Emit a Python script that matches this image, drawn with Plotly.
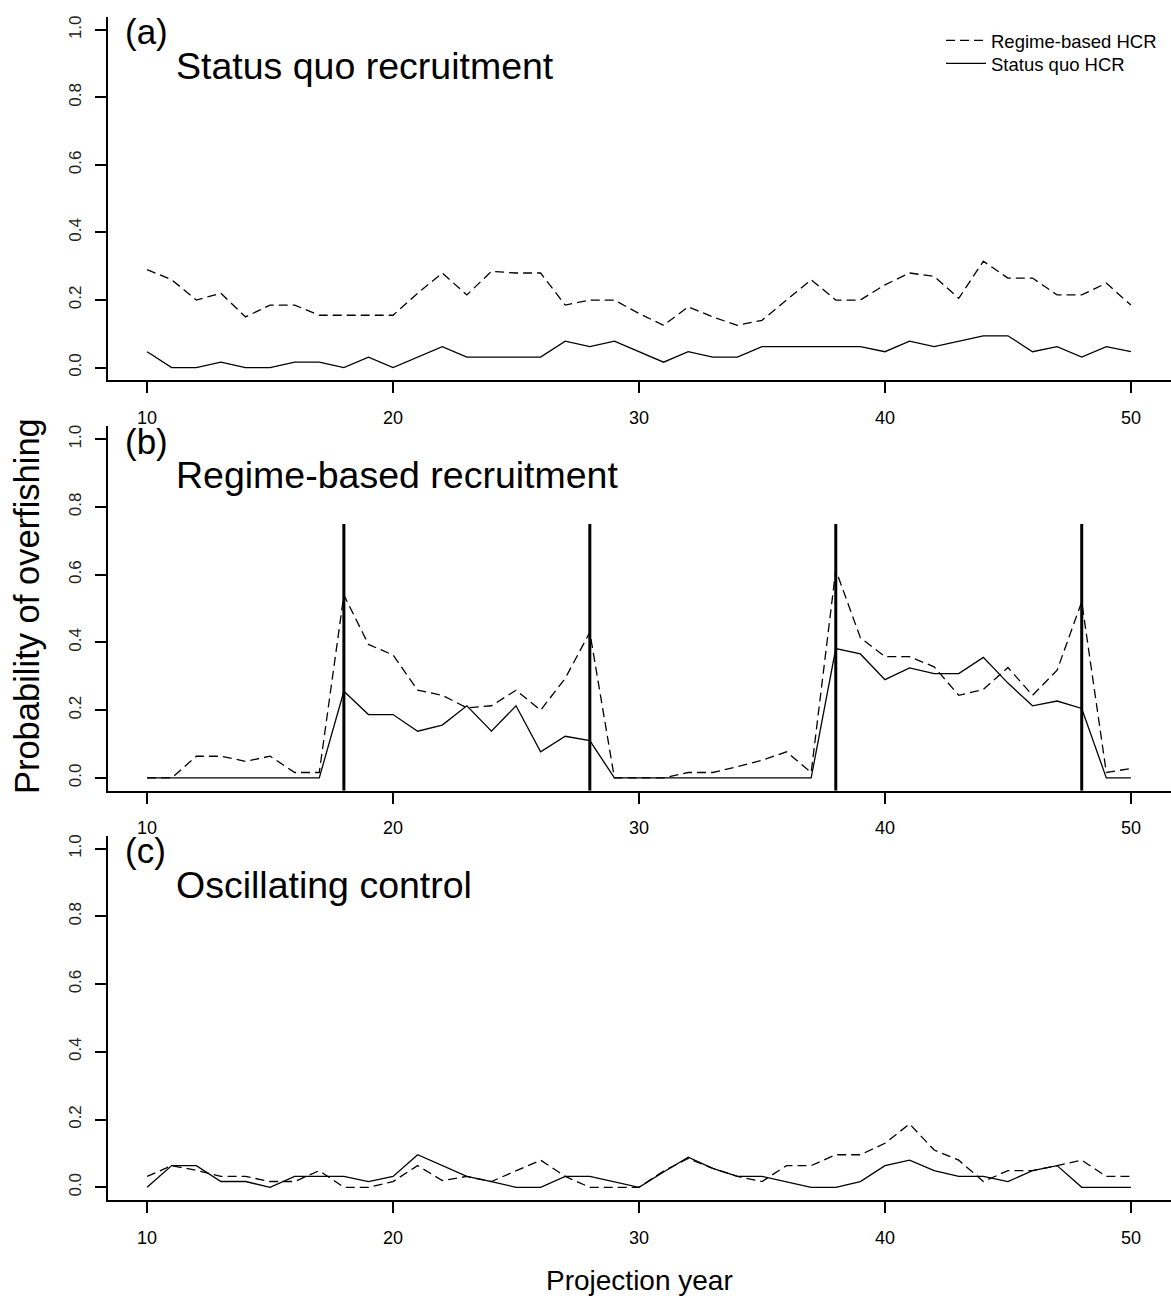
import plotly.graph_objects as go

# ---------------- data ----------------
years = list(range(10, 51))

a_regime = [0.29, 0.26, 0.20, 0.22, 0.15, 0.185, 0.185, 0.155, 0.155, 0.155, 0.155,
            0.22, 0.28, 0.215, 0.285, 0.28, 0.28, 0.185, 0.20, 0.20, 0.16,
            0.125, 0.18, 0.15, 0.125, 0.14, 0.20, 0.26, 0.20, 0.20, 0.245,
            0.28, 0.27, 0.205, 0.315, 0.265, 0.265, 0.215, 0.215, 0.25, 0.185]
a_statusquo = [0.047, 0, 0, 0.016, 0, 0, 0.016, 0.016, 0, 0.031, 0,
               0.031, 0.062, 0.031, 0.031, 0.031, 0.031, 0.078, 0.062, 0.078, 0.047,
               0.016, 0.047, 0.031, 0.031, 0.062, 0.062, 0.062, 0.062, 0.062, 0.047,
               0.078, 0.062, 0.078, 0.094, 0.094, 0.047, 0.062, 0.031, 0.062, 0.047]

b_regime = [0, 0, 0.064, 0.064, 0.049, 0.064, 0.016, 0.016, 0.54, 0.394, 0.363,
            0.259, 0.244, 0.207, 0.213, 0.259, 0.20, 0.294, 0.43, 0, 0,
            0, 0.016, 0.016, 0.033, 0.052, 0.077, 0.016, 0.614, 0.414, 0.358,
            0.358, 0.328, 0.244, 0.261, 0.326, 0.244, 0.318, 0.52, 0.016, 0.028]
b_statusquo = [0, 0, 0, 0, 0, 0, 0, 0, 0.256, 0.187, 0.187,
               0.138, 0.156, 0.213, 0.138, 0.213, 0.077, 0.123, 0.11, 0, 0,
               0, 0, 0, 0, 0, 0, 0, 0.382, 0.366, 0.29,
               0.325, 0.308, 0.308, 0.356, 0.28, 0.213, 0.227, 0.205, 0, 0]

c_regime = [0.032, 0.064, 0.05, 0.032, 0.032, 0.017, 0.017, 0.049, 0, 0, 0.017,
            0.064, 0.02, 0.032, 0.017, 0.049, 0.08, 0.032, 0, 0, 0,
            0.048, 0.085, 0.056, 0.032, 0.017, 0.064, 0.064, 0.096, 0.096, 0.13,
            0.187, 0.11, 0.08, 0.017, 0.049, 0.049, 0.064, 0.08, 0.032, 0.032]
c_statusquo = [0, 0.064, 0.064, 0.017, 0.017, 0, 0.032, 0.032, 0.032, 0.017, 0.032,
               0.096, 0.064, 0.032, 0.017, 0, 0, 0.032, 0.032, 0.017, 0,
               0.045, 0.089, 0.056, 0.032, 0.032, 0.017, 0, 0, 0.017, 0.064,
               0.08, 0.049, 0.032, 0.032, 0.017, 0.049, 0.064, 0, 0, 0]

regime_shift_years = [18, 28, 38, 48]
regime_shift_top = 0.75

panel_letters = ["(a)", "(b)", "(c)"]
panel_titles = ["Status quo recruitment", "Regime-based recruitment", "Oscillating control"]
series_names = ["Regime-based HCR", "Status quo HCR"]
x_ticks = [10, 20, 30, 40, 50]
y_ticks = [0.0, 0.2, 0.4, 0.6, 0.8, 1.0]

# ---------------- layout helpers ----------------
W, H = 1171, 1298
FONT = "Liberation Sans, Arial, sans-serif"
X_RANGE = [8.41, 51.63]
Y_RANGE = [-0.038, 1.038]


def px(p):
    return p / W


def py(p):
    return 1 - p / H


# panel pixel boxes (top, bottom)
panel_px = [(15, 379), (425, 790), (835, 1200)]
panel_dy = [0, 410, 820]

fig = go.Figure()

panels = [(a_regime, a_statusquo), (b_regime, b_statusquo), (c_regime, c_statusquo)]
for i, (reg, sq) in enumerate(panels):
    xa = "x" if i == 0 else f"x{i+1}"
    ya = "y" if i == 0 else f"y{i+1}"
    fig.add_trace(go.Scatter(x=years, y=reg, mode="lines", name=series_names[0],
                             line=dict(color="black", width=1.3, dash="9px,5px"),
                             xaxis=xa, yaxis=ya, showlegend=(i == 0), legend="legend"))
    fig.add_trace(go.Scatter(x=years, y=sq, mode="lines", name=series_names[1],
                             line=dict(color="black", width=1.3),
                             xaxis=xa, yaxis=ya, showlegend=(i == 0), legend="legend2"))

# vertical regime-shift lines in panel (b)
vx, vy = [], []
for yr in regime_shift_years:
    vx += [yr, yr, None]
    vy += [Y_RANGE[0], regime_shift_top, None]
fig.add_trace(go.Scatter(x=vx, y=vy, mode="lines", line=dict(color="black", width=3),
                         xaxis="x2", yaxis="y2", showlegend=False, hoverinfo="skip"))

axis_common = dict(showline=True, linecolor="black", linewidth=1.6, ticks="outside",
                   ticklen=11, tickwidth=1.5, tickcolor="black", showgrid=False,
                   zeroline=False, mirror=False)

layout = dict(width=W, height=H, margin=dict(l=0, r=0, t=0, b=0),
              paper_bgcolor="white", plot_bgcolor="white",
              font=dict(family=FONT, color="black"))

for i, (top, bot) in enumerate(panel_px):
    xk = "xaxis" if i == 0 else f"xaxis{i+1}"
    yk = "yaxis" if i == 0 else f"yaxis{i+1}"
    xa = "x" if i == 0 else f"x{i+1}"
    ya = "y" if i == 0 else f"y{i+1}"
    layout[xk] = dict(domain=[px(108), 1], range=X_RANGE, anchor=ya,
                      tickvals=x_ticks, tickfont=dict(size=18, family=FONT),
                      ticklabelstandoff=9, **axis_common)
    layout[yk] = dict(domain=[py(bot), py(top)], range=Y_RANGE, anchor=xa,
                      tickvals=y_ticks, tickformat=".1f", tickangle=-90,
                      tickfont=dict(size=17, family=FONT, color="#222"),
                      ticklabelstandoff=7, **axis_common)

annotations = []
for i in range(3):
    dy = panel_dy[i]
    annotations.append(dict(text=panel_letters[i], xref="paper", yref="paper",
                            x=px(123), y=py(30 + dy), xanchor="left", yanchor="middle",
                            showarrow=False, font=dict(size=35, family=FONT)))
    annotations.append(dict(text=panel_titles[i], xref="paper", yref="paper",
                            x=px(174), y=py(64 + dy), xanchor="left", yanchor="middle",
                            showarrow=False, font=dict(size=37.5, family=FONT)))

annotations.append(dict(text="Probability of overfishing", xref="paper", yref="paper",
                        x=px(27), y=py(605), xanchor="center", yanchor="middle",
                        textangle=-90, showarrow=False, font=dict(size=34.5, family=FONT)))
annotations.append(dict(text="Projection year", xref="paper", yref="paper",
                        x=px(639), y=py(1280), xanchor="center", yanchor="middle",
                        showarrow=False, font=dict(size=28, family=FONT)))

layout["annotations"] = annotations
legend_common = dict(xanchor="left", yanchor="middle", bgcolor="rgba(0,0,0,0)",
                     font=dict(size=18.5, family=FONT), itemwidth=40,
                     borderwidth=0)
layout["legend"] = dict(x=px(941), y=py(39), **legend_common)
layout["legend2"] = dict(x=px(941), y=py(62), **legend_common)
layout["showlegend"] = True

fig.update_layout(**layout)
fig.write_html("out.html")
